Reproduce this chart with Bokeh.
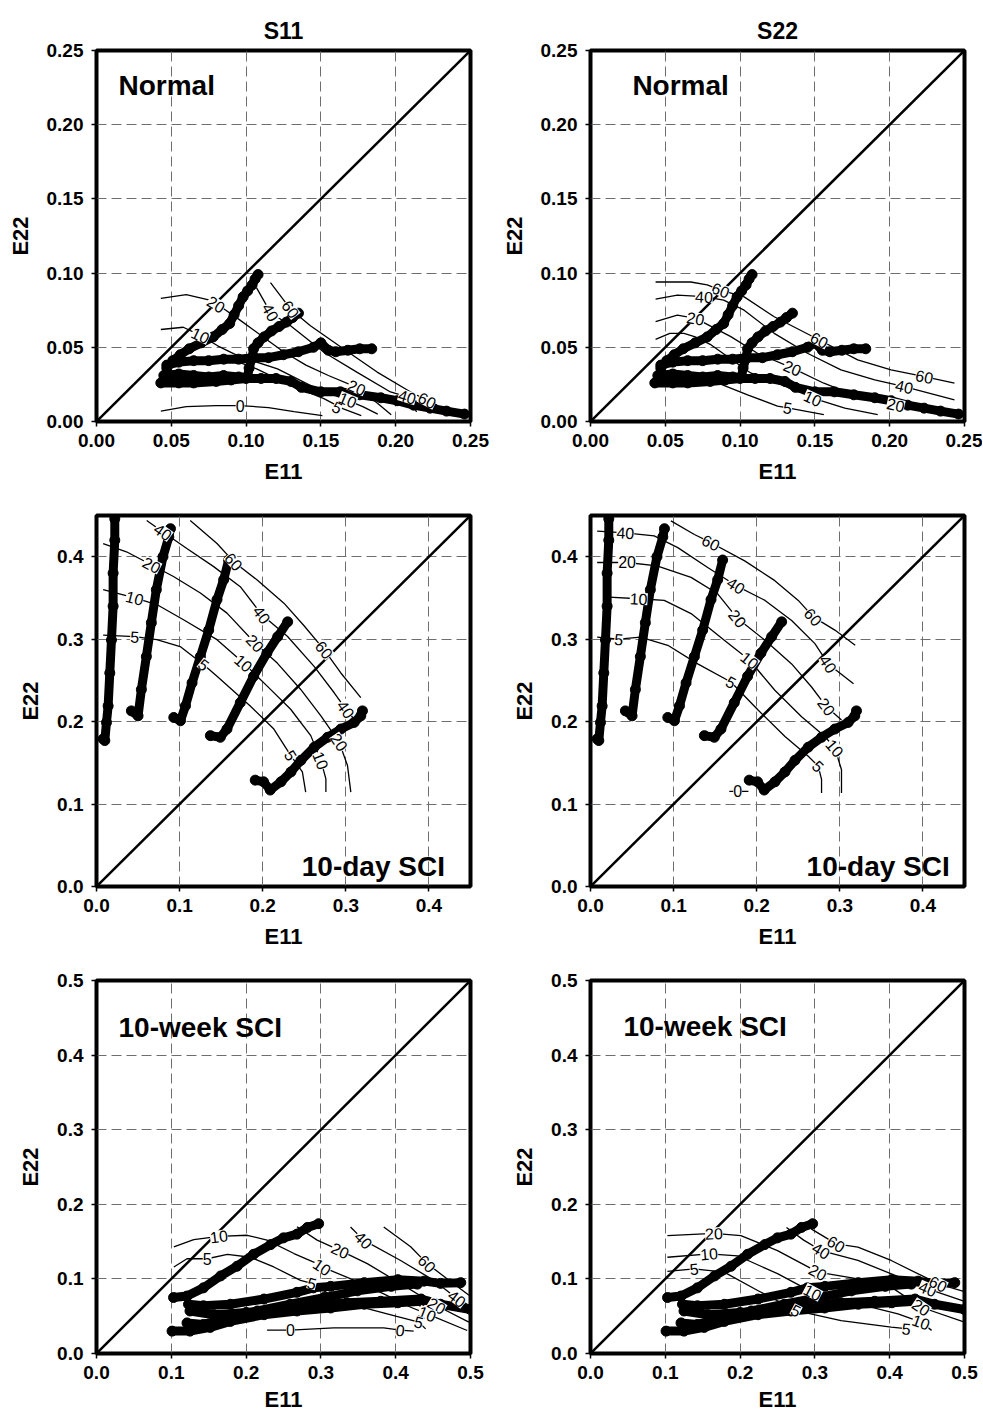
import math
from bokeh.plotting import figure
from bokeh.models import Range1d, FixedTicker, NumeralTickFormatter
from bokeh.layouts import column, row
from bokeh.embed import file_html
from bokeh.resources import INLINE
from bokeh.core.properties import value

FONT = "Liberation Sans"

# ---------------- data: strain trajectories (E11, E22) ----------------
# Normal
normal_A_x = [0.047, 0.051, 0.056, 0.062, 0.070, 0.078, 0.084, 0.089, 0.092, 0.095, 0.098, 0.101, 0.104, 0.106, 0.108]
normal_A_y = [0.036, 0.041, 0.045, 0.049, 0.053, 0.057, 0.062, 0.066, 0.072, 0.078, 0.084, 0.088, 0.092, 0.096, 0.099]
normal_B_x = [0.045, 0.055, 0.065, 0.075, 0.085, 0.095, 0.101, 0.102, 0.104, 0.105, 0.108, 0.112, 0.117, 0.122, 0.127, 0.131, 0.135]
normal_B_y = [0.031, 0.032, 0.031, 0.030, 0.031, 0.030, 0.030, 0.036, 0.043, 0.049, 0.053, 0.057, 0.061, 0.064, 0.067, 0.070, 0.073]
normal_C_x = [0.047, 0.055, 0.065, 0.075, 0.085, 0.095, 0.105, 0.115, 0.125, 0.135, 0.145, 0.150, 0.155, 0.160, 0.168, 0.176, 0.184]
normal_C_y = [0.038, 0.040, 0.041, 0.041, 0.042, 0.042, 0.043, 0.043, 0.045, 0.047, 0.050, 0.053, 0.048, 0.047, 0.048, 0.049, 0.049]
normal_D_x = [0.043, 0.055, 0.065, 0.080, 0.090, 0.100, 0.110, 0.120, 0.130, 0.137, 0.150, 0.163, 0.176, 0.190, 0.201, 0.212, 0.223, 0.234, 0.246]
normal_D_y = [0.026, 0.026, 0.026, 0.027, 0.028, 0.029, 0.029, 0.029, 0.027, 0.023, 0.020, 0.020, 0.018, 0.016, 0.014, 0.011, 0.009, 0.007, 0.005]

# 10-day SCI
day_1_x = [0.008, 0.010, 0.012, 0.014, 0.016, 0.018, 0.020, 0.020, 0.022, 0.022]
day_1_y = [0.179, 0.177, 0.199, 0.219, 0.259, 0.299, 0.340, 0.380, 0.420, 0.446]
day_2_x = [0.042, 0.050, 0.054, 0.060, 0.066, 0.072, 0.080, 0.087, 0.089]
day_2_y = [0.213, 0.207, 0.239, 0.279, 0.320, 0.360, 0.400, 0.424, 0.434]
day_3_x = [0.093, 0.101, 0.107, 0.115, 0.125, 0.135, 0.145, 0.153, 0.159]
day_3_y = [0.205, 0.201, 0.219, 0.247, 0.279, 0.311, 0.348, 0.372, 0.396]
day_4_x = [0.137, 0.149, 0.157, 0.173, 0.189, 0.205, 0.218, 0.230]
day_4_y = [0.183, 0.181, 0.191, 0.223, 0.255, 0.283, 0.303, 0.321]
day_5_x = [0.191, 0.201, 0.209, 0.222, 0.234, 0.246, 0.262, 0.278, 0.294, 0.310, 0.318, 0.320]
day_5_y = [0.129, 0.127, 0.117, 0.127, 0.139, 0.153, 0.169, 0.181, 0.191, 0.199, 0.207, 0.213]

# 10-week SCI
week_1_x = [0.103, 0.121, 0.143, 0.166, 0.188, 0.210, 0.233, 0.250, 0.268, 0.282, 0.297]
week_1_y = [0.075, 0.077, 0.088, 0.104, 0.117, 0.133, 0.146, 0.155, 0.160, 0.169, 0.174]
week_2_x = [0.123, 0.143, 0.179, 0.224, 0.268, 0.290, 0.313, 0.358, 0.403, 0.438, 0.460, 0.487]
week_2_y = [0.066, 0.064, 0.066, 0.073, 0.082, 0.088, 0.090, 0.095, 0.099, 0.097, 0.094, 0.095]
week_3_x = [0.125, 0.157, 0.200, 0.246, 0.290, 0.335, 0.380, 0.434, 0.460, 0.500]
week_3_y = [0.057, 0.052, 0.055, 0.059, 0.064, 0.068, 0.070, 0.073, 0.066, 0.059]
week_4_x = [0.101, 0.125, 0.152, 0.179, 0.224, 0.268, 0.313, 0.358, 0.403, 0.434]
week_4_y = [0.030, 0.030, 0.035, 0.043, 0.052, 0.057, 0.061, 0.066, 0.068, 0.070]
week_5_x = [0.121, 0.143, 0.170, 0.215, 0.259, 0.304, 0.349, 0.394, 0.429]
week_5_y = [0.041, 0.039, 0.046, 0.057, 0.066, 0.075, 0.084, 0.090, 0.093]

normal_traj = [(normal_A_x, normal_A_y), (normal_B_x, normal_B_y), (normal_C_x, normal_C_y), (normal_D_x, normal_D_y)]
day_traj = [(day_1_x, day_1_y), (day_2_x, day_2_y), (day_3_x, day_3_y), (day_4_x, day_4_y), (day_5_x, day_5_y)]
week_traj = [(week_1_x, week_1_y), (week_2_x, week_2_y), (week_3_x, week_3_y), (week_4_x, week_4_y), (week_5_x, week_5_y)]

# ---------------- data: stress contours {level: (E11 list, E22 list)} ----------------
normal_s11 = {
    0: ([0.043, 0.060, 0.080, 0.096, 0.115, 0.132, 0.151], [0.007, 0.010, 0.0107, 0.0107, 0.0094, 0.0067, 0.004]),
    5: ([0.095, 0.107, 0.130, 0.152, 0.165, 0.177], [0.040, 0.0355, 0.0243, 0.0154, 0.0085, 0.004]),
    10: ([0.043, 0.058, 0.0695, 0.081, 0.095, 0.121, 0.1475, 0.165, 0.178, 0.188], [0.062, 0.0635, 0.058, 0.051, 0.044, 0.0355, 0.022, 0.0154, 0.010, 0.005]),
    20: ([0.043, 0.060, 0.075, 0.085, 0.095, 0.110, 0.125, 0.140, 0.155, 0.174, 0.187, 0.197], [0.083, 0.0855, 0.082, 0.076, 0.069, 0.058, 0.047, 0.038, 0.031, 0.023, 0.013, 0.0045]),
    40: ([0.107, 0.1163, 0.1297, 0.152, 0.174, 0.1965, 0.2077, 0.214], [0.090, 0.0735, 0.0645, 0.0467, 0.0333, 0.0199, 0.0166, 0.0065]),
    60: ([0.1163, 0.1297, 0.143, 0.165, 0.1876, 0.210, 0.221, 0.2277], [0.0936, 0.0757, 0.0645, 0.049, 0.0333, 0.0199, 0.0143, 0.011]),
}
normal_s11_labels = [(20, 0.080, 0.079), (10, 0.0695, 0.058), (0, 0.096, 0.0107), (40, 0.1163, 0.0735), (60, 0.1297, 0.0757),
                     (20, 0.174, 0.023), (5, 0.161, 0.0095), (10, 0.168, 0.0145), (40, 0.2077, 0.0166), (60, 0.221, 0.0143)]

normal_s22 = {
    5: ([0.070, 0.0849, 0.105, 0.125, 0.1318, 0.156], [0.030, 0.026, 0.018, 0.0103, 0.0092, 0.0047]),
    10: ([0.0435, 0.053, 0.0625, 0.070, 0.080, 0.107, 0.1385, 0.1486, 0.170, 0.192], [0.0553, 0.0594, 0.0594, 0.057, 0.052, 0.0327, 0.0204, 0.0157, 0.009, 0.0047]),
    20: ([0.0435, 0.058, 0.0703, 0.0938, 0.1116, 0.135, 0.156, 0.1786, 0.204, 0.215], [0.0673, 0.0717, 0.0695, 0.0572, 0.046, 0.036, 0.0258, 0.0168, 0.0112, 0.009]),
    40: ([0.0435, 0.058, 0.0759, 0.089, 0.1027, 0.1228, 0.145, 0.1674, 0.190, 0.2098, 0.2433], [0.0825, 0.0852, 0.0841, 0.0818, 0.075, 0.0594, 0.046, 0.0348, 0.028, 0.0235, 0.0146]),
    60: ([0.0435, 0.067, 0.078, 0.087, 0.1027, 0.1228, 0.153, 0.1786, 0.2009, 0.2232, 0.2433], [0.094, 0.094, 0.092, 0.0886, 0.084, 0.0706, 0.0549, 0.0415, 0.0348, 0.0303, 0.0258]),
}
normal_s22_labels = [(60, 0.087, 0.0886), (40, 0.0759, 0.0841), (20, 0.0703, 0.0695), (20, 0.135, 0.036), (10, 0.1486, 0.0157),
                     (5, 0.1318, 0.0092), (60, 0.153, 0.0549), (60, 0.2232, 0.0303), (40, 0.2098, 0.0235), (20, 0.204, 0.0112)]

day_s11 = {
    5: ([0.008, 0.046, 0.0725, 0.1007, 0.129, 0.145, 0.185, 0.2134, 0.2336, 0.2477, 0.2517], [0.305, 0.303, 0.2995, 0.291, 0.269, 0.255, 0.219, 0.191, 0.159, 0.139, 0.1145]),
    10: ([0.008, 0.046, 0.0725, 0.1047, 0.145, 0.177, 0.2054, 0.2336, 0.2578, 0.270, 0.276, 0.276], [0.360, 0.350, 0.342, 0.3236, 0.2994, 0.271, 0.243, 0.215, 0.183, 0.1527, 0.1306, 0.1145]),
    20: ([0.008, 0.036, 0.0665, 0.0926, 0.125, 0.157, 0.191, 0.2175, 0.2457, 0.270, 0.292, 0.302, 0.306], [0.416, 0.406, 0.390, 0.376, 0.356, 0.3316, 0.295, 0.271, 0.239, 0.207, 0.175, 0.1467, 0.1145]),
    40: ([0.0604, 0.080, 0.1087, 0.141, 0.173, 0.199, 0.2296, 0.2618, 0.286, 0.300, 0.310], [0.444, 0.430, 0.410, 0.388, 0.3637, 0.3296, 0.3035, 0.267, 0.235, 0.215, 0.203]),
    60: ([0.1128, 0.145, 0.165, 0.193, 0.2255, 0.250, 0.274, 0.294, 0.318], [0.444, 0.416, 0.394, 0.372, 0.3437, 0.316, 0.287, 0.259, 0.229]),
}
day_s11_labels = [(5, 0.046, 0.303), (5, 0.129, 0.269), (5, 0.2336, 0.159), (10, 0.046, 0.350), (10, 0.177, 0.271), (10, 0.270, 0.1527),
                  (20, 0.0665, 0.390), (20, 0.191, 0.295), (20, 0.292, 0.175), (40, 0.080, 0.430), (40, 0.199, 0.3296), (40, 0.300, 0.215),
                  (60, 0.165, 0.394), (60, 0.274, 0.287)]

day_s22 = {
    0: ([0.167, 0.190], [0.1155, 0.1155]),
    5: ([0.008, 0.034, 0.060, 0.093, 0.129, 0.169, 0.2016, 0.234, 0.262, 0.274, 0.278, 0.278], [0.3026, 0.300, 0.3026, 0.2926, 0.270, 0.248, 0.214, 0.182, 0.158, 0.146, 0.130, 0.1135]),
    10: ([0.022, 0.058, 0.0887, 0.121, 0.161, 0.1915, 0.2218, 0.254, 0.282, 0.294, 0.302, 0.302], [0.351, 0.349, 0.347, 0.331, 0.2986, 0.2744, 0.238, 0.206, 0.182, 0.168, 0.1416, 0.1135]),
    20: ([0.008, 0.044, 0.080, 0.121, 0.153, 0.177, 0.210, 0.242, 0.266, 0.284, 0.302], [0.393, 0.393, 0.389, 0.375, 0.355, 0.325, 0.2986, 0.270, 0.242, 0.218, 0.202]),
    40: ([0.008, 0.042, 0.0766, 0.105, 0.141, 0.175, 0.210, 0.242, 0.270, 0.286, 0.3165], [0.431, 0.429, 0.4253, 0.411, 0.387, 0.365, 0.347, 0.3227, 0.2946, 0.270, 0.246]),
    60: ([0.0968, 0.125, 0.145, 0.1855, 0.2218, 0.250, 0.268, 0.294, 0.3185], [0.4435, 0.427, 0.417, 0.395, 0.371, 0.347, 0.327, 0.311, 0.2926]),
}
day_s22_labels = [(0, 0.177, 0.1155), (5, 0.034, 0.300), (5, 0.169, 0.248), (5, 0.274, 0.146), (10, 0.058, 0.349), (10, 0.1915, 0.2744),
                  (10, 0.294, 0.168), (20, 0.044, 0.393), (20, 0.177, 0.325), (20, 0.284, 0.218), (40, 0.042, 0.429), (40, 0.175, 0.365),
                  (40, 0.286, 0.270), (60, 0.145, 0.417), (60, 0.268, 0.327)]

week_s11 = {
    0: ([0.228, 0.2594, 0.317, 0.384, 0.406, 0.424], [0.0313, 0.0313, 0.0344, 0.0344, 0.0313, 0.030]),
    5: ([0.1034, 0.121, 0.148, 0.175, 0.206, 0.237, 0.2727, 0.288, 0.317, 0.362, 0.400, 0.431, 0.440], [0.116, 0.127, 0.127, 0.133, 0.129, 0.116, 0.098, 0.094, 0.0759, 0.0603, 0.050, 0.042, 0.033]),
    10: ([0.1034, 0.130, 0.1636, 0.2014, 0.228, 0.264, 0.295, 0.3017, 0.340, 0.384, 0.420, 0.442, 0.4956], [0.143, 0.1527, 0.157, 0.1585, 0.152, 0.134, 0.1205, 0.116, 0.100, 0.080, 0.062, 0.0532, 0.0308]),
    20: ([0.268, 0.295, 0.326, 0.362, 0.406, 0.455, 0.4978], [0.170, 0.152, 0.138, 0.1205, 0.094, 0.064, 0.042]),
    40: ([0.3396, 0.357, 0.406, 0.451, 0.482, 0.498], [0.1696, 0.152, 0.125, 0.098, 0.0737, 0.0647]),
    60: ([0.384, 0.420, 0.442, 0.469, 0.498], [0.1696, 0.143, 0.1205, 0.100, 0.078]),
}
week_s11_labels = [(10, 0.1636, 0.157), (5, 0.148, 0.127), (20, 0.326, 0.138), (10, 0.3017, 0.116), (5, 0.288, 0.094), (40, 0.357, 0.152),
                   (60, 0.442, 0.1205), (40, 0.482, 0.0737), (20, 0.455, 0.064), (10, 0.442, 0.0532), (5, 0.431, 0.042),
                   (0, 0.2594, 0.0313), (0, 0.406, 0.0313)]

week_s22 = {
    5: ([0.1028, 0.1385, 0.1787, 0.2235, 0.2748, 0.335, 0.402, 0.425], [0.110, 0.1135, 0.109, 0.0845, 0.0576, 0.0442, 0.0353, 0.033]),
    10: ([0.1028, 0.1586, 0.1966, 0.250, 0.297, 0.3575, 0.411, 0.442, 0.456], [0.129, 0.1336, 0.131, 0.107, 0.082, 0.0666, 0.053, 0.042, 0.031]),
    20: ([0.1028, 0.165, 0.201, 0.250, 0.304, 0.3575, 0.402, 0.442, 0.500], [0.158, 0.161, 0.158, 0.138, 0.109, 0.100, 0.089, 0.062, 0.042]),
    40: ([0.262, 0.285, 0.3083, 0.3575, 0.424, 0.451, 0.500], [0.169, 0.152, 0.138, 0.1247, 0.098, 0.0867, 0.070]),
    60: ([0.295, 0.3284, 0.3575, 0.402, 0.447, 0.4647, 0.500], [0.167, 0.147, 0.1425, 0.1247, 0.1023, 0.0934, 0.083]),
}
week_s22_labels = [(5, 0.1385, 0.1135), (5, 0.2748, 0.0576), (5, 0.4223, 0.0331), (10, 0.1586, 0.1336), (10, 0.297, 0.082),
                   (10, 0.442, 0.042), (20, 0.165, 0.161), (20, 0.304, 0.109), (20, 0.442, 0.062), (40, 0.3083, 0.138),
                   (40, 0.451, 0.0867), (60, 0.3284, 0.147), (60, 0.4647, 0.0934)]

# axes
normal_lim, normal_ticks = 0.25, [0.0, 0.05, 0.10, 0.15, 0.20, 0.25]
day_lim, day_ticks = 0.45, [0.0, 0.1, 0.2, 0.3, 0.4]
week_lim, week_ticks = 0.5, [0.0, 0.1, 0.2, 0.3, 0.4, 0.5]
column_titles = ["S11", "S22"]


def seg_angle(cx, cy, x, y):
    best_d, best_i = None, 0
    for i in range(len(cx) - 1):
        x0, y0, x1, y1 = cx[i], cy[i], cx[i + 1], cy[i + 1]
        dx, dy = x1 - x0, y1 - y0
        L2 = dx * dx + dy * dy
        t = 0.0 if L2 == 0 else max(0.0, min(1.0, ((x - x0) * dx + (y - y0) * dy) / L2))
        px, py = x0 + t * dx, y0 + t * dy
        d = (px - x) ** 2 + (py - y) ** 2
        if best_d is None or d < best_d:
            best_d, best_i = d, i
    i = best_i
    a = math.atan2(cy[i + 1] - cy[i], cx[i + 1] - cx[i])
    if a > math.pi / 2:
        a -= math.pi
    if a < -math.pi / 2:
        a += math.pi
    return a


def make_panel(col, rowi, lim, ticks, fmt, trajs, contours, labels, tag, tag_x, tag_y):
    left = 96 if col == 0 else 100
    right = 20 if col == 0 else 18
    top = [50, 29, 29][rowi]
    bottom = [63, 63, 61][rowi]
    kw = {}
    if rowi == 0:
        kw["title"] = column_titles[col]
    p = figure(width=left + 374 + right, height=top + 373 + bottom,
               x_range=Range1d(0, lim), y_range=Range1d(0, lim),
               output_backend="svg", toolbar_location=None,
               min_border_left=left, min_border_right=right,
               min_border_top=top, min_border_bottom=bottom, **kw)
    if rowi == 0:
        p.title.align = "center"
        p.title.vertical_align = "top"
        p.title.text_font = FONT
        p.title.text_font_size = "23px"
        p.title.text_font_style = "bold"
        p.title.text_color = "black"
        p.title.standoff = 10
    p.background_fill_color = "white"
    p.border_fill_color = "white"
    p.outline_line_color = "black"
    p.outline_line_width = 4
    p.outline_line_alpha = 1.0

    for ax, lab in ((p.xaxis, "E11"), (p.yaxis, "E22")):
        ax.ticker = FixedTicker(ticks=ticks)
        ax.formatter = NumeralTickFormatter(format=fmt)
        ax.axis_label = lab
        ax.axis_label_text_font = FONT
        ax.axis_label_text_font_size = "22px"
        ax.axis_label_text_font_style = "bold"
        ax.axis_label_text_color = "black"
        ax.major_label_text_font = FONT
        ax.major_label_text_font_size = "19px"
        ax.major_label_text_font_style = "bold"
        ax.major_label_text_color = "black"
        ax.axis_line_color = "black"
        ax.axis_line_width = 2
        ax.major_tick_line_color = "black"
        ax.major_tick_line_width = 1.5
        ax.major_tick_out = 5
        ax.major_tick_in = 0
        ax.minor_tick_line_color = None
    p.xaxis.major_label_standoff = 7
    p.xaxis.axis_label_standoff = 9 if rowi < 2 else 5
    p.yaxis.major_label_standoff = 8
    p.yaxis.axis_label_standoff = 11
    p.yaxis.major_label_orientation = "horizontal"

    for g in (p.xgrid, p.ygrid):
        g.ticker = FixedTicker(ticks=ticks)
        g.grid_line_color = "#6e6e6e"
        g.grid_line_width = 1
        g.grid_line_dash = "10 5"

    # identity line
    p.line([0, lim], [0, lim], line_color="black", line_width=2.5)

    # trajectories
    for tx, ty in trajs:
        p.line(tx, ty, line_color="black", line_width=9, line_join="round", line_cap="round")
        p.scatter(tx, ty, size=10, fill_color="black", line_color="black")

    # contour lines
    for lev, (cx, cy) in contours.items():
        p.line(cx, cy, line_color="black", line_width=1.3)

    # contour labels
    lx, ly, lt, la = [], [], [], []
    for lev, x, y in labels:
        cx, cy = contours[lev]
        lx.append(x)
        ly.append(y)
        lt.append(str(lev))
        la.append(seg_angle(cx, cy, x, y))
    p.text(x=lx, y=ly, text=lt, angle=la, text_font=value(FONT), text_font_size="16px",
           text_align="center", text_baseline="middle", text_color="black",
           background_fill_color="white", background_fill_alpha=1.0)

    # panel tag
    p.text(x=[tag_x], y=[tag_y], text=[tag], text_font=value(FONT), text_font_size="28px",
           text_font_style="bold", text_align="left", text_baseline="alphabetic", text_color="black")
    return p


p1 = make_panel(0, 0, normal_lim, normal_ticks, "0.00", normal_traj, normal_s11, normal_s11_labels, "Normal", 0.0147, 0.2265)
p2 = make_panel(1, 0, normal_lim, normal_ticks, "0.00", normal_traj, normal_s22, normal_s22_labels, "Normal", 0.028, 0.2265)
p3 = make_panel(0, 1, day_lim, day_ticks, "0.0", day_traj, day_s11, day_s11_labels, "10-day SCI", 0.247, 0.0238)
p4 = make_panel(1, 1, day_lim, day_ticks, "0.0", day_traj, day_s22, day_s22_labels, "10-day SCI", 0.260, 0.0238)
p5 = make_panel(0, 2, week_lim, week_ticks, "0.0", week_traj, week_s11, week_s11_labels, "10-week SCI", 0.0294, 0.437)
p6 = make_panel(1, 2, week_lim, week_ticks, "0.0", week_traj, week_s22, week_s22_labels, "10-week SCI", 0.044, 0.438)

layout = column(row(p1, p2, spacing=0), row(p3, p4, spacing=0), row(p5, p6, spacing=0), spacing=0)

with open("out.html", "w") as f:
    f.write(file_html(layout, INLINE))
